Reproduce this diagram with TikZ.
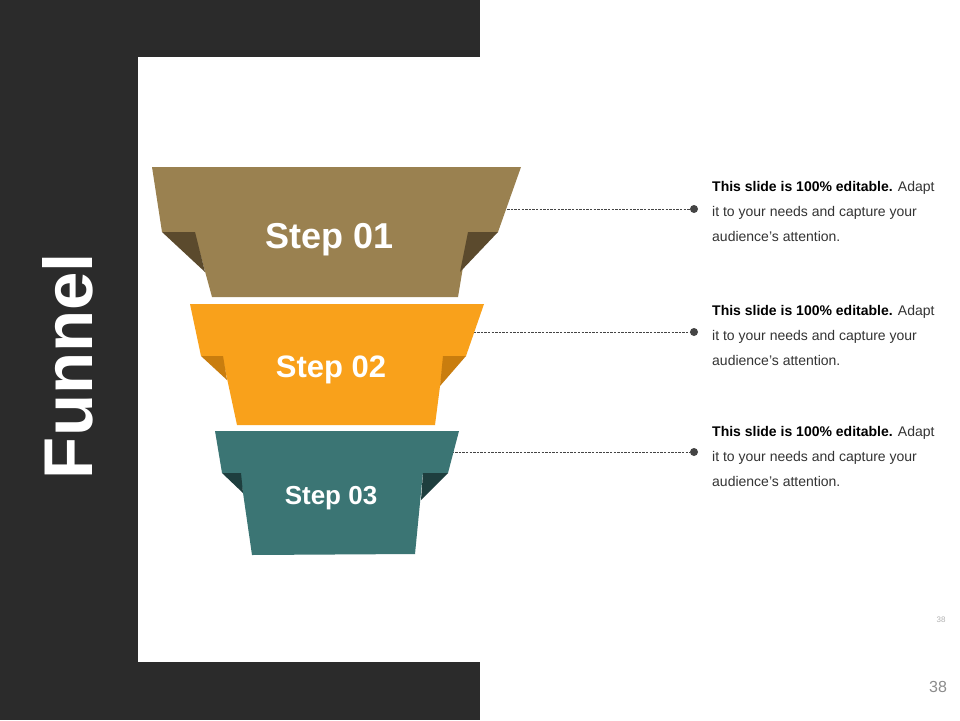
\documentclass[tikz,border=0pt]{standalone}
\usepackage{fontspec}
\setmainfont{Liberation Sans}
\definecolor{darkbg}{HTML}{2B2B2B}
\definecolor{gold}{HTML}{9A8150}
\definecolor{golddk}{HTML}{5B4A2D}
\definecolor{orng}{HTML}{F9A11B}
\definecolor{orngdk}{HTML}{C97D0E}
\definecolor{tealc}{HTML}{3B7574}
\definecolor{tealdk}{HTML}{1E3E3E}
\definecolor{txtgray}{HTML}{333333}
\definecolor{dotgray}{HTML}{444444}
\begin{document}
\begin{tikzpicture}[x=1pt,y=-1pt,
  steplabel/.style={text=white,font=\bfseries\fontsize{#1}{#1}\selectfont,inner sep=0pt},
  conn/.style={draw=dotgray,line width=0.8pt,dash pattern=on 2.4pt off 1.2pt},
  enddot/.style={circle,fill=dotgray,inner sep=0pt,minimum size=8pt},
  desc/.style={anchor=base west,inner sep=0pt,text=txtgray,font=\fontsize{14}{16}\selectfont},
  pagenum/.style={text=#1,inner sep=0pt}]
\useasboundingbox (0,0) rectangle (960,720);
\fill[white] (0,0) rectangle (960,720);
\fill[darkbg] (0,0) rectangle (480,720);
\fill[white] (138,57) rectangle (480,662);

\node[rotate=90,anchor=base,text=white,inner sep=0pt,font=\bfseries\fontsize{69}{69}\selectfont] (title) at (92,366) {Funnel};

% connectors (behind shapes)
\coordinate (c1) at (500,209);
\coordinate (c2) at (470,332);
\coordinate (c3) at (448,452);
\node[enddot] (d1) at (694,209) {};
\node[enddot] (d2) at (694,332) {};
\node[enddot] (d3) at (694,452) {};
\draw[conn] (c1) -- (d1);
\draw[conn] (c2) -- (d2);
\draw[conn] (c3) -- (d3);

% Step 01
\fill[gold] (152,167) -- (521,167) -- (498,232) -- (162,232) -- cycle;
\fill[gold] (194,231) -- (469,231) -- (458,297) -- (212,297) -- cycle;
\fill[golddk] (162,232) -- (195,232) -- (205,272) -- cycle;
\fill[golddk] (498,232) -- (468,232) -- (460,272) -- cycle;
\node[steplabel=36] (s1) at (330,240) {Step 01};

% Step 02
\fill[orng] (190,304) -- (484,304) -- (466,356) -- (201,356) -- cycle;
\fill[orng] (222,355) -- (444,355) -- (435,425) -- (237,425) -- cycle;
\fill[orngdk] (201,356) -- (223,356) -- (227,380) -- cycle;
\fill[orngdk] (466,356) -- (443,356) -- (440,386) -- cycle;
\node[steplabel=31] (s2) at (331,370) {Step 02};

% Step 03
\fill[tealc] (215,431) -- (459,431) -- (448,473) -- (222,473) -- cycle;
\fill[tealc] (240,472) -- (423,472) -- (415,554) -- (252,555) -- cycle;
\fill[tealdk] (222,473) -- (241,473) -- (243,493) -- cycle;
\fill[tealdk] (448,473) -- (423,473) -- (421,500) -- cycle;
\node[steplabel=26] (s3) at (331,498) {Step 03};

% descriptions
\foreach \i/\y in {1/191,2/315,3/436}{
  \node[desc] (t\i a) at (712,\y) {\textbf{\color{black}This slide is 100\% editable.} Adapt};
  \node[desc] (t\i b) at (712,\y+25) {it to your needs and capture your};
  \node[desc] (t\i c) at (712,\y+50) {audience's attention.};
}

\node[pagenum=black!30,font=\fontsize{8}{8}\selectfont] (p1) at (941,620) {38};
\node[pagenum=black!45,font=\fontsize{16}{16}\selectfont] (p2) at (938,687) {38};
\end{tikzpicture}
\end{document}
